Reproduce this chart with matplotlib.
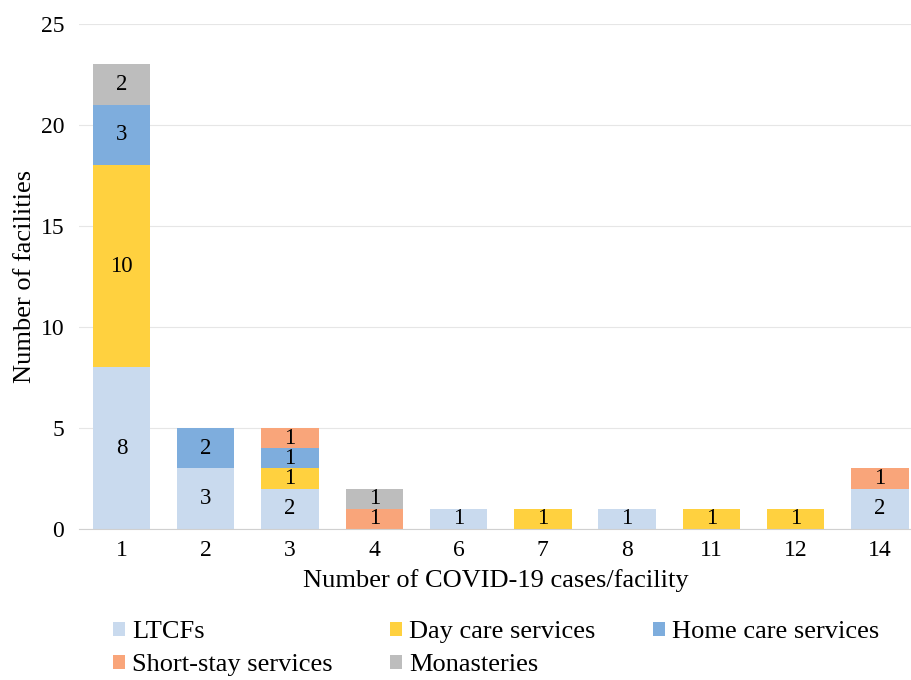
import numpy as np
import matplotlib.pyplot as plt

plt.rcParams['font.family'] = ['Liberation Serif', 'DejaVu Serif']

cases = ['1', '2', '3', '4', '6', '7', '8', '11', '12', '14']
ltcfs = [8, 3, 2, 0, 1, 0, 1, 0, 0, 2]
day_care = [10, 0, 1, 0, 0, 1, 0, 1, 1, 0]
home_care = [3, 2, 1, 0, 0, 0, 0, 0, 0, 0]
short_stay = [0, 0, 1, 1, 0, 0, 0, 0, 0, 1]
monasteries = [2, 0, 0, 1, 0, 0, 0, 0, 0, 0]

series = [
    ('LTCFs', ltcfs, '#c9daee'),
    ('Day care services', day_care, '#ffd13f'),
    ('Home care services', home_care, '#7eaddd'),
    ('Short-stay services', short_stay, '#f9a57a'),
    ('Monasteries', monasteries, '#bdbdbd'),
]

fig = plt.figure(figsize=(9.12, 6.8), dpi=100)
ax = fig.add_axes([0.087, 0.222, 0.913, 0.743])

x = np.arange(len(cases))
bottom = np.zeros(len(cases))
handles = {}
for name, vals, color in series:
    vals = np.array(vals, dtype=float)
    bars = ax.bar(x, vals, 0.68, bottom=bottom, color=color, label=name, zorder=2)
    handles[name] = bars
    for xi, v, b in zip(x, vals, bottom):
        if v > 0:
            ax.text(xi, b + v / 2, f'{int(v)}', ha='center', va='center',
                    fontsize=16.5, color='black', zorder=3)
    bottom += vals

ax.set_xlim(-0.5, 9.38)
ax.set_ylim(0, 25)
ax.set_yticks(range(0, 26, 5))
ax.set_xticks(x)
ax.set_xticklabels(cases)
ax.grid(axis='y', color='#e6e6e6', linewidth=0.8, zorder=0)
for s in ['top', 'right', 'left']:
    ax.spines[s].set_visible(False)
ax.spines['bottom'].set_color('#d0d0d0')
ax.tick_params(axis='x', length=0, labelsize=17, pad=8)
ax.tick_params(axis='y', length=0, labelsize=17, pad=11)
ax.set_xlabel('Number of COVID-19 cases/facility', fontsize=19, labelpad=6)
ax.set_ylabel('Number of facilities', fontsize=19, labelpad=3)

# legend filled column by column, so reorder to read row by row
order = ['LTCFs', 'Short-stay services', 'Day care services',
         'Monasteries', 'Home care services']
fig.legend([handles[n] for n in order], order, loc='lower left',
           bbox_to_anchor=(0.104, -0.022), ncol=3, frameon=False, fontsize=19,
           handlelength=0.45, handleheight=0.45, handletextpad=0.25,
           columnspacing=2.2, labelspacing=0.42, borderpad=0.2)

fig.savefig('out.png', dpi=100)
